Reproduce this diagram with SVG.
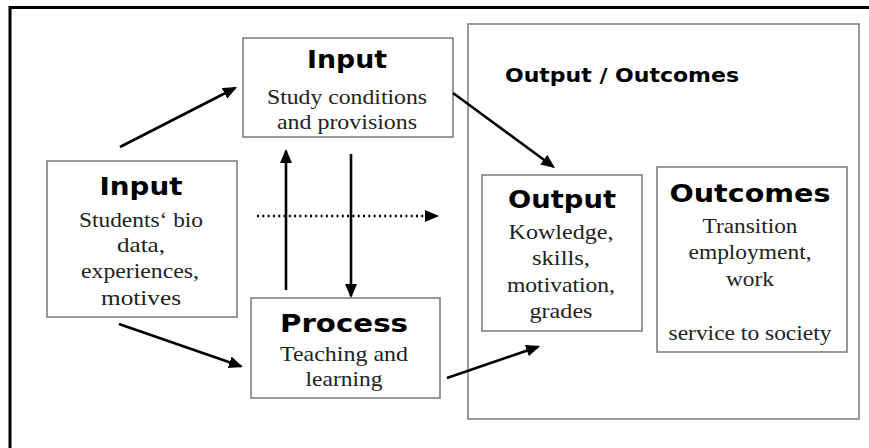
<svg xmlns="http://www.w3.org/2000/svg" width="869" height="448" viewBox="0 0 869 448">
<defs>
<style>
.box{fill:#fff;stroke:#808080;stroke-width:1.6}
.t{font-family:"DejaVu Sans","Liberation Sans",sans-serif;font-weight:bold;font-size:25px;fill:#000;text-anchor:middle}
.b{font-family:"Liberation Serif","Times New Roman",serif;font-size:21px;fill:#222;text-anchor:middle}
.ar{stroke:#000;stroke-width:2.6;fill:none;marker-end:url(#ah)}
</style>
<marker id="ah" markerUnits="userSpaceOnUse" markerWidth="16" markerHeight="14" refX="12" refY="6" orient="auto">
<path d="M0,0 L14,6 L0,12 z" fill="#000"/>
</marker>
</defs>
<rect width="869" height="448" fill="#fff"/>
<path d="M10,448 V7.5 H869" fill="none" stroke="#000" stroke-width="3"/>

<g id="outer-output-outcomes">
<rect class="box" x="468" y="24" width="391" height="395"/>
<text x="505" y="82" font-family="DejaVu Sans, Liberation Sans, sans-serif" font-weight="bold" font-size="19" textLength="234" lengthAdjust="spacingAndGlyphs">Output / Outcomes</text>
</g>

<g id="input-top">
<rect class="box" x="243" y="38" width="210" height="99"/>
<text class="t" x="347" y="68" textLength="80" lengthAdjust="spacingAndGlyphs">Input</text>
<text class="b" x="347" y="104" textLength="160" lengthAdjust="spacingAndGlyphs">Study conditions</text>
<text class="b" x="347" y="129" textLength="140" lengthAdjust="spacingAndGlyphs">and provisions</text>
</g>

<g id="input-left">
<rect class="box" x="47" y="161" width="190" height="156"/>
<text class="t" x="141" y="195" textLength="83" lengthAdjust="spacingAndGlyphs">Input</text>
<text class="b" x="141" y="227" textLength="124" lengthAdjust="spacingAndGlyphs">Students‘ bio</text>
<text class="b" x="141" y="252" textLength="48" lengthAdjust="spacingAndGlyphs">data,</text>
<text class="b" x="140" y="278" textLength="118" lengthAdjust="spacingAndGlyphs">experiences,</text>
<text class="b" x="141" y="305" textLength="80" lengthAdjust="spacingAndGlyphs">motives</text>
</g>

<g id="process">
<rect class="box" x="251" y="298" width="189" height="100"/>
<text class="t" x="344" y="332" textLength="128" lengthAdjust="spacingAndGlyphs">Process</text>
<text class="b" x="344" y="361" textLength="128" lengthAdjust="spacingAndGlyphs">Teaching and</text>
<text class="b" x="344" y="386" textLength="77" lengthAdjust="spacingAndGlyphs">learning</text>
</g>

<g id="output">
<rect class="box" x="482" y="175" width="160" height="156"/>
<text class="t" x="562" y="208" textLength="108" lengthAdjust="spacingAndGlyphs">Output</text>
<text class="b" x="561" y="239" textLength="105" lengthAdjust="spacingAndGlyphs">Kowledge,</text>
<text class="b" x="561" y="265" textLength="58" lengthAdjust="spacingAndGlyphs">skills,</text>
<text class="b" x="561" y="292" textLength="108" lengthAdjust="spacingAndGlyphs">motivation,</text>
<text class="b" x="561" y="318" textLength="63" lengthAdjust="spacingAndGlyphs">grades</text>
</g>

<g id="outcomes">
<rect class="box" x="657" y="167" width="190" height="185"/>
<text class="t" x="750" y="202" textLength="161" lengthAdjust="spacingAndGlyphs">Outcomes</text>
<text class="b" x="750" y="233" textLength="95" lengthAdjust="spacingAndGlyphs">Transition</text>
<text class="b" x="750" y="259" textLength="123" lengthAdjust="spacingAndGlyphs">employment,</text>
<text class="b" x="750" y="286" textLength="48" lengthAdjust="spacingAndGlyphs">work</text>
<text class="b" x="750" y="340" textLength="163" lengthAdjust="spacingAndGlyphs">service to society</text>
</g>

<g id="connectors">
<line class="ar" x1="120" y1="147" x2="235.2" y2="88"/>
<line class="ar" x1="453" y1="93" x2="553.4" y2="166.8"/>
<line class="ar" x1="286" y1="290" x2="286" y2="151"/>
<line class="ar" x1="351" y1="154" x2="351" y2="296"/>
<line class="ar" x1="257" y1="216" x2="437" y2="216" stroke-dasharray="2 3.3" stroke-width="2.2"/>
<line class="ar" x1="119" y1="324" x2="241" y2="366.3"/>
<line class="ar" x1="447" y1="378" x2="538.2" y2="346.7"/>
</g>
</svg>
